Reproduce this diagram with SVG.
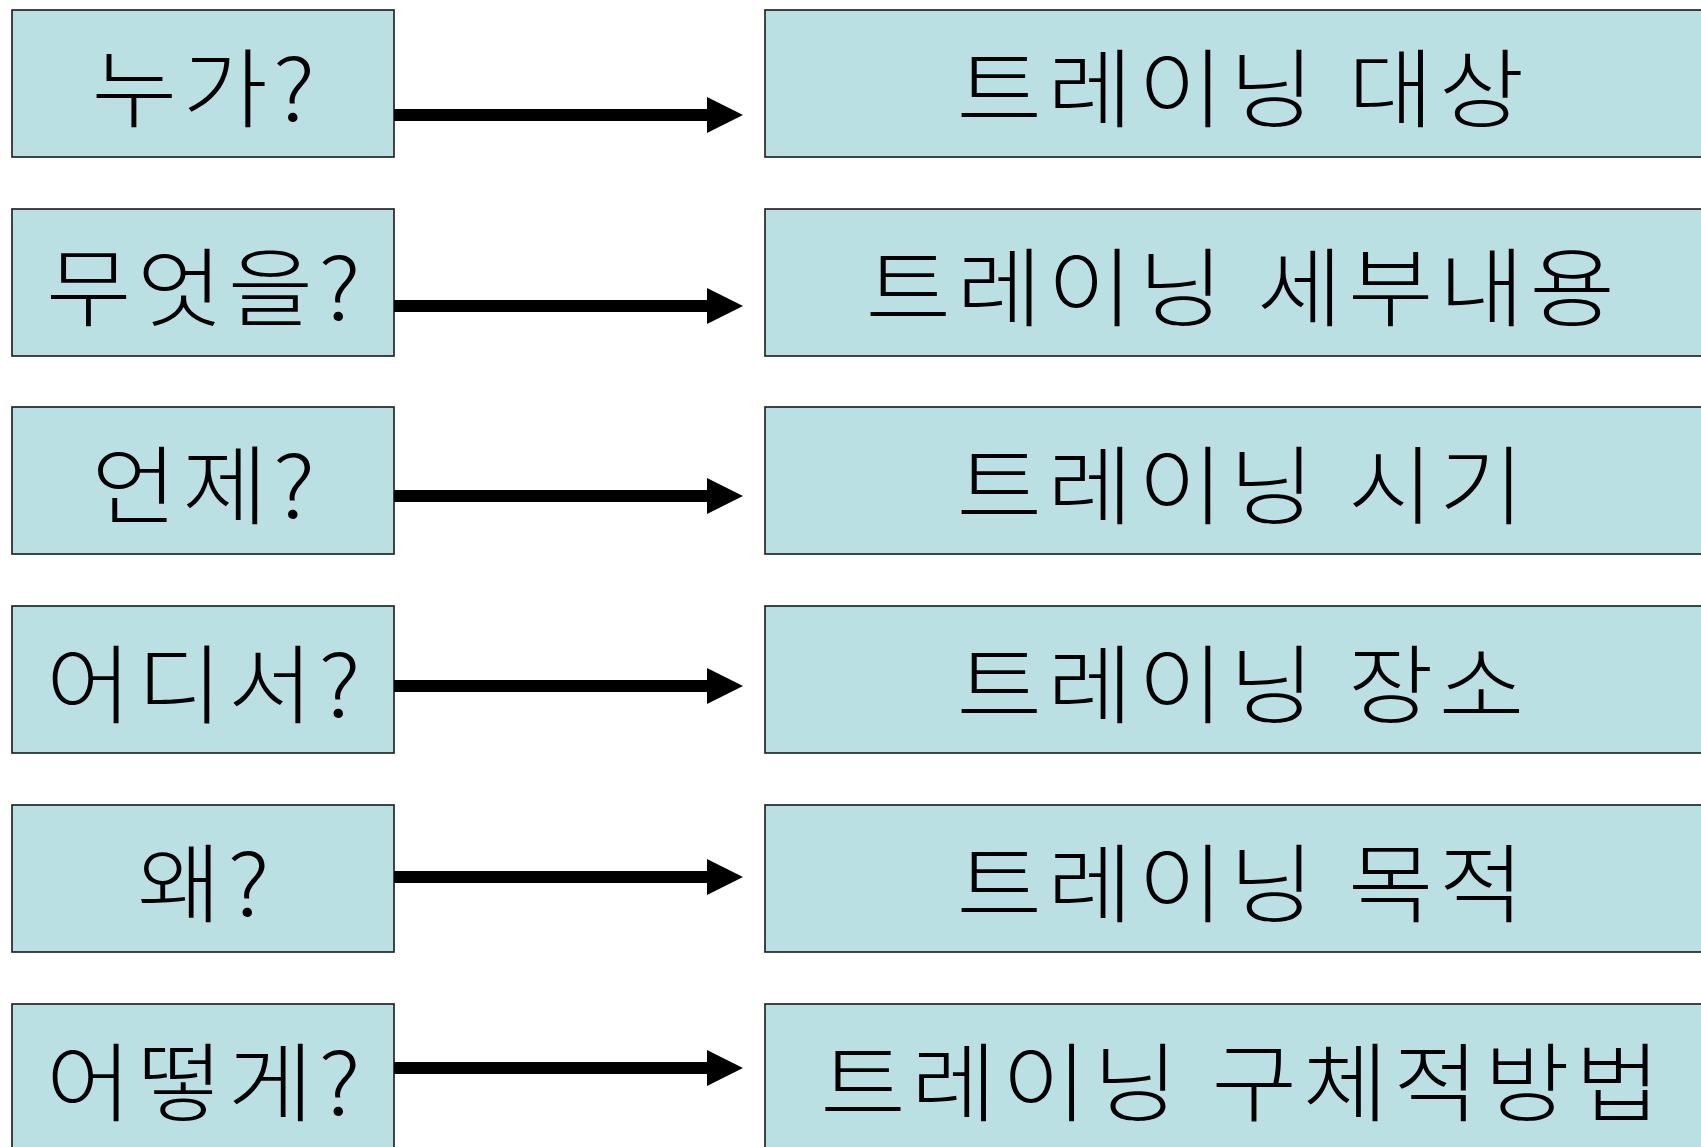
<svg xmlns="http://www.w3.org/2000/svg" width="1701" height="1147" viewBox="0 0 1701 1147">
<defs>
<style>
.box{fill:#BBE0E3;stroke:#1a1a1a;stroke-width:1.6}
.t{font-family:"Noto Sans CJK KR","Noto Sans",sans-serif;font-size:86px;font-weight:300;fill:#000;text-anchor:middle;letter-spacing:5px;word-spacing:2px}
.ln{stroke:#000;stroke-width:12;fill:none}
</style>
<polygon id="ah" points="0,-18 36,0 0,18" fill="#000"/>
</defs>
<rect width="1701" height="1147" fill="#fff"/>
<g id="q1"><rect class="box" x="12" y="10" width="382" height="147"/><text class="t" transform="translate(206,121) scale(1.08,1)">누가?</text></g>
<g id="q2"><rect class="box" x="12" y="209" width="382" height="147"/><text class="t" transform="translate(206,320) scale(1.08,1)">무엇을?</text></g>
<g id="q3"><rect class="box" x="12" y="407" width="382" height="147"/><text class="t" transform="translate(206,518) scale(1.08,1)">언제?</text></g>
<g id="q4"><rect class="box" x="12" y="606" width="382" height="147"/><text class="t" transform="translate(206,717) scale(1.08,1)">어디서?</text></g>
<g id="q5"><rect class="box" x="12" y="805" width="382" height="147"/><text class="t" transform="translate(206,916) scale(1.08,1)">왜?</text></g>
<g id="q6"><rect class="box" x="12" y="1004" width="382" height="147"/><text class="t" transform="translate(206,1115) scale(1.08,1)">어떻게?</text></g>
<g id="a1"><rect class="box" x="765" y="10" width="960" height="147"/><text class="t" transform="translate(1243,121) scale(1.08,1)">트레이닝 대상</text></g>
<g id="a2"><rect class="box" x="765" y="209" width="960" height="147"/><text class="t" transform="translate(1243,320) scale(1.08,1)">트레이닝 세부내용</text></g>
<g id="a3"><rect class="box" x="765" y="407" width="960" height="147"/><text class="t" transform="translate(1243,518) scale(1.08,1)">트레이닝 시기</text></g>
<g id="a4"><rect class="box" x="765" y="606" width="960" height="147"/><text class="t" transform="translate(1243,717) scale(1.08,1)">트레이닝 장소</text></g>
<g id="a5"><rect class="box" x="765" y="805" width="960" height="147"/><text class="t" transform="translate(1243,916) scale(1.08,1)">트레이닝 목적</text></g>
<g id="a6"><rect class="box" x="765" y="1004" width="960" height="147"/><text class="t" transform="translate(1243,1115) scale(1.08,1)">트레이닝 구체적방법</text></g>
<g id="connectors">
<line class="ln" x1="394" y1="115" x2="708" y2="115"/><use href="#ah" x="707" y="115"/>
<line class="ln" x1="394" y1="306" x2="708" y2="306"/><use href="#ah" x="707" y="306"/>
<line class="ln" x1="394" y1="496" x2="708" y2="496"/><use href="#ah" x="707" y="496"/>
<line class="ln" x1="394" y1="686" x2="708" y2="686"/><use href="#ah" x="707" y="686"/>
<line class="ln" x1="394" y1="877" x2="708" y2="877"/><use href="#ah" x="707" y="877"/>
<line class="ln" x1="394" y1="1068" x2="708" y2="1068"/><use href="#ah" x="707" y="1068"/>
</g>
</svg>
